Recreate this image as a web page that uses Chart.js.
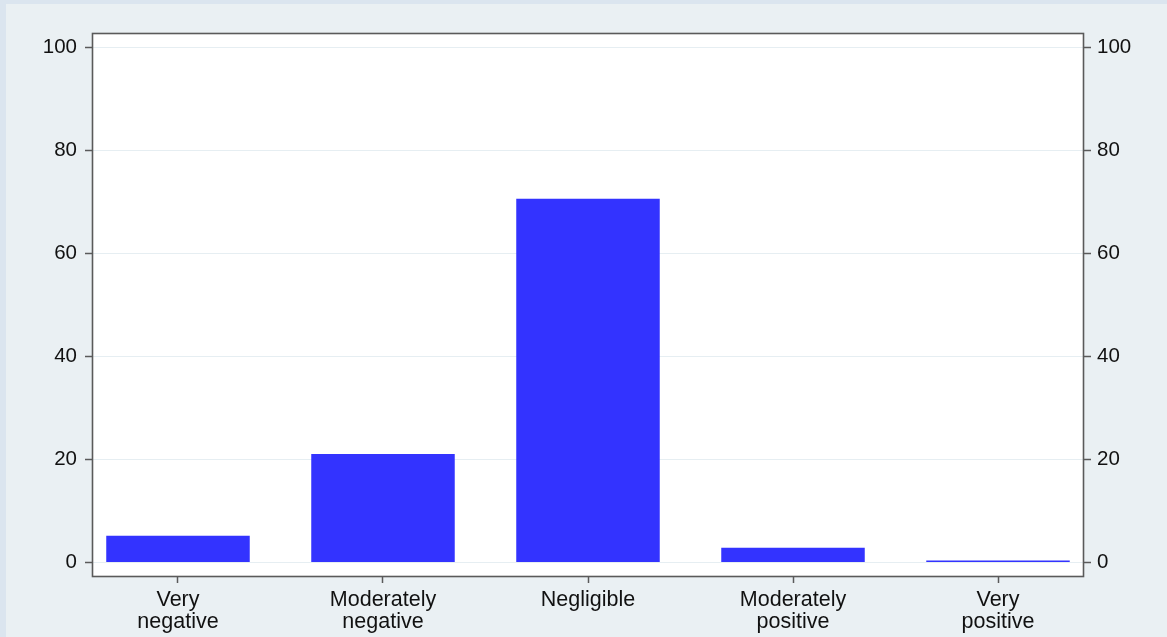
<!DOCTYPE html>
<html>
<head>
<meta charset="utf-8">
<title>Distribution of effects</title>
<script src="https://cdn.jsdelivr.net/npm/chart.js@4.4.1/dist/chart.umd.min.js"></script>
<style>
  html, body { margin: 0; padding: 0; background: #eaf0f3; }
  canvas { display: block; }
</style>
</head>
<body>
<canvas id="chart" width="1167" height="637"></canvas>
<script>
// Categories along the horizontal axis (each label split into display lines)
const categories = [
  ["Very", "negative"],
  ["Moderately", "negative"],
  ["Negligible"],
  ["Moderately", "positive"],
  ["Very", "positive"]
];

// Percentage of cases in each category
const shares = [5.2, 21.1, 70.6, 2.9, 0.4];

// Vertical axis tick values (shown on both sides)
const yTicks = [0, 20, 40, 60, 80, 100];

const FAMILY = "'Liberation Sans', Arial, Helvetica, sans-serif";
const TEXT = '#111111';
const FRAME = '#5a5a5a';

// Page background, white plot region and the frame around it
const framePlugin = {
  id: 'frame',
  beforeDraw(chart) {
    const { ctx, width, height, chartArea: a } = chart;
    ctx.save();
    ctx.fillStyle = '#dbe5ef';
    ctx.fillRect(0, 0, width, height);
    ctx.fillStyle = '#eaf0f3';
    ctx.fillRect(6, 4, width - 6, height - 4);
    ctx.fillStyle = '#ffffff';
    ctx.fillRect(a.left, a.top, a.right - a.left, a.bottom - a.top);
    ctx.restore();
  },
  afterDraw(chart) {
    const { ctx, chartArea: a } = chart;
    ctx.save();
    ctx.strokeStyle = FRAME;
    ctx.lineWidth = 1.6;
    ctx.strokeRect(a.left - 0.5, a.top - 0.5, a.right - a.left + 1, a.bottom - a.top + 1);
    ctx.restore();
  }
};

const setYTicks = scale => { scale.ticks = yTicks.map(v => ({ value: v })); };

new Chart(document.getElementById('chart'), {
  type: 'bar',
  data: {
    datasets: [{
      data: shares.map((v, i) => ({ x: i, y: v })),
      backgroundColor: '#3333ff',
      borderWidth: 0,
      barPercentage: 0.7,
      categoryPercentage: 1.0
    }]
  },
  options: {
    responsive: false,
    animation: false,
    layout: { padding: { top: 34, left: 0, right: 0, bottom: 0 } },
    plugins: { legend: { display: false }, tooltip: { enabled: false } },
    scales: {
      x: {
        type: 'linear',
        offset: false,
        min: -0.4146,
        max: 4.4146,
        afterBuildTicks: scale => { scale.ticks = categories.map((c, i) => ({ value: i })); },
        afterFit: scale => { scale.height = 61; },
        border: { display: false },
        grid: { offset: false, drawOnChartArea: false, drawTicks: true, tickLength: 7, tickColor: FRAME, tickWidth: 1.5 },
        ticks: {
          autoSkip: false,
          maxRotation: 0,
          padding: 7,
          color: TEXT,
          font: { family: FAMILY, size: 21.5, lineHeight: 0.98 },
          callback: v => categories[v]
        }
      },
      y: {
        position: 'left',
        min: -2.6,
        max: 102.6,
        afterBuildTicks: setYTicks,
        afterFit: scale => { scale.width = 93; },
        border: { display: false },
        grid: { color: '#e6eef2', lineWidth: 1, drawTicks: true, tickLength: 8, tickColor: FRAME, tickWidth: 1.5 },
        ticks: { padding: 8, color: TEXT, font: { family: FAMILY, size: 20.5 } }
      },
      y2: {
        position: 'right',
        min: -2.6,
        max: 102.6,
        afterBuildTicks: setYTicks,
        afterFit: scale => { scale.width = 84; },
        border: { display: false },
        grid: { drawOnChartArea: false, drawTicks: true, tickLength: 8, tickColor: FRAME, tickWidth: 1.5 },
        ticks: { padding: 6, color: TEXT, font: { family: FAMILY, size: 20.5 } }
      }
    }
  },
  plugins: [framePlugin]
});
</script>
</body>
</html>
